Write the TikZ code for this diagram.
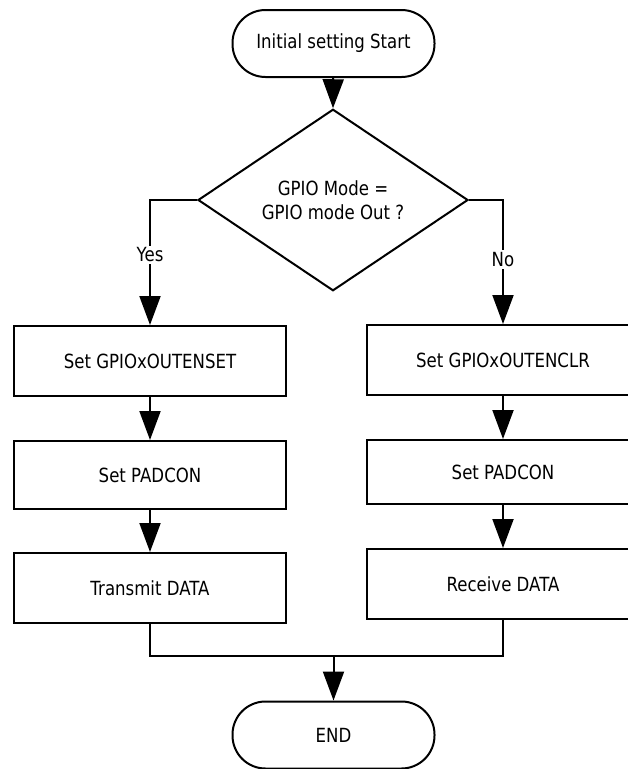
\documentclass[tikz,border=0pt]{standalone}
\usepackage{fontspec}
\setmainfont{DejaVu Sans}[FakeStretch=0.85]
\usetikzlibrary{arrows.meta,shapes.geometric}
\begin{document}
\begin{tikzpicture}[x=1pt,y=-1pt,
  line width=2pt,
  every node/.style={font=\fontsize{19.5}{24}\selectfont},
  term/.style={draw, rectangle, rounded corners=33pt, minimum width=202pt, minimum height=67pt, inner sep=0pt},
  proc/.style={draw, rectangle, minimum width=272pt, inner sep=0pt},
  dec/.style={draw, diamond, minimum width=270pt, minimum height=135pt, inner sep=0pt, align=center},
  lbl/.style={fill=white, inner sep=2pt},
  arr/.style={-{Triangle[length=29pt,width=21pt]}},
]
\useasboundingbox (0,0) rectangle (627,769);

\node[term] (start) at (333.5,43.5) {Initial setting Start};
\node[dec] (d) at (333,200) {GPIO Mode =\\GPIO mode Out ?};
\node[proc, minimum height=70pt] (l1) at (150,361) {Set GPIOxOUTENSET};
\node[proc, minimum height=68pt] (l2) at (150,475) {Set PADCON};
\node[proc, minimum height=70pt] (l3) at (150,588) {Transmit DATA};
\node[proc, minimum height=70pt] (r1) at (503,360) {Set GPIOxOUTENCLR};
\node[proc, minimum height=64pt] (r2) at (503,472) {Set PADCON};
\node[proc, minimum height=70pt] (r3) at (503,584) {Receive DATA};
\node[term] (end) at (333.5,735) {END};
\coordinate (m) at (333.5,656);

\draw[arr] (start) -- (d.north);
\draw[arr] (d.west) -| node[lbl, pos=0.72] {Yes} (l1.north);
\draw[arr] (d.east) -| node[lbl, pos=0.74] {No} (r1.north);
\draw[arr] (l1) -- (l2);
\draw[arr] (l2) -- (l3);
\draw[arr] (r1) -- (r2);
\draw[arr] (r2) -- (r3);
\draw (l3.south) |- (r3.south |- m) -- (r3.south);
\draw[arr] (m) -- (end);
\end{tikzpicture}
\end{document}
